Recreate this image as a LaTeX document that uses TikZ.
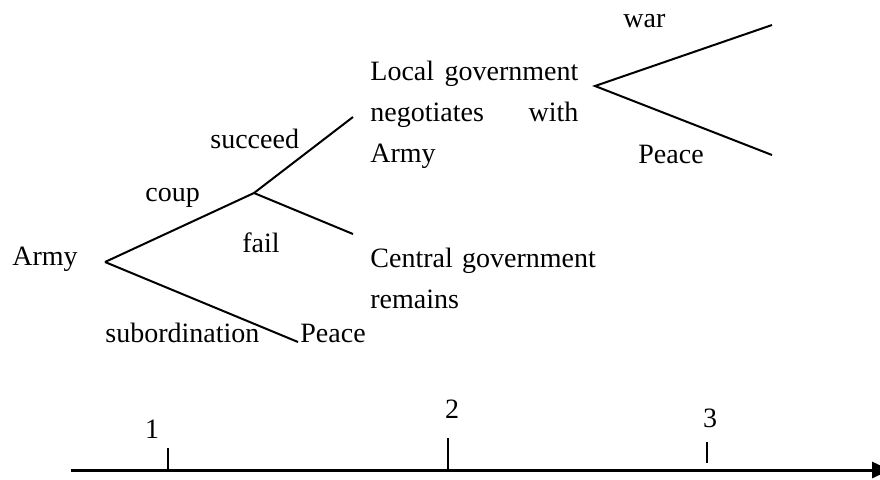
\documentclass[tikz,border=0pt]{standalone}
\usepackage{fontspec}
\setmainfont{Liberation Serif}
\usetikzlibrary{arrows.meta}

\begin{document}
\begin{tikzpicture}[
        x=0.5pt, y=-0.5pt,
        every node/.style={inner sep=0pt, font=\fontsize{14pt}{20.5pt}\selectfont},
        label text/.style={anchor=base west},
        outcome/.style={anchor=base west, align=left, text width=#1},
        branch/.style={line width=1pt},
        tick/.style={line width=0.6pt},
        time axis/.style={line width=1.5pt, -{Triangle[length=9pt, width=8pt]}}
    ]
    \useasboundingbox (0,0) rectangle (880,479);

    % branch points of the game tree
    \coordinate (root) at (105,262);
    \coordinate (coupend) at (254,193);
    \coordinate (succend) at (353,117);
    \coordinate (failend) at (353,234);
    \coordinate (subend) at (298,342);
    \coordinate (negot) at (595,86);
    \coordinate (warend) at (772,25);
    \coordinate (peaceend) at (772,155);

    \node[label text] (army) at (12,265) {Army};
    \node[label text] (coup) at (145,201) {coup};
    \node[label text] (succeed) at (210,148) {succeed};
    \node[label text] (fail) at (242,252) {fail};
    \node[label text] (subord) at (105,342) {subordination};
    \node[label text] (peacelow) at (300,342) {Peace};
    \node[outcome=104pt] (localgov) at (370,80)
        {Local\hfill government\\
         negotiates\hfill with\\
         Army};
    \node[outcome=120pt] (centralgov) at (370,267) {Central government\\remains};
    \node[label text] (war) at (623,27) {war};
    \node[label text] (peacehigh) at (638,163) {Peace};

    \draw[branch] (root) -- (coupend) -- (succend);
    \draw[branch] (coupend) -- (failend);
    \draw[branch] (root) -- (subend);
    \draw[branch] (warend) -- (negot) -- (peaceend);

    % time line
    \coordinate (axisstart) at (71,470);
    \coordinate (axisend) at (890,470);
    \draw[time axis] (axisstart) -- (axisend);

    \coordinate (tick1) at (168,448);
    \coordinate (tick2) at (448,438);
    \coordinate (tick3) at (707,442);
    \draw[tick] (tick1) -- (tick1 |- axisstart);
    \draw[tick] (tick2) -- (tick2 |- axisstart);
    \draw[tick] (tick3) -- ++(0,21);

    \node[anchor=base] (one) at (152,438) {1};
    \node[anchor=base] (two) at (452,418) {2};
    \node[anchor=base] (three) at (710,427) {3};
\end{tikzpicture}
\end{document}
